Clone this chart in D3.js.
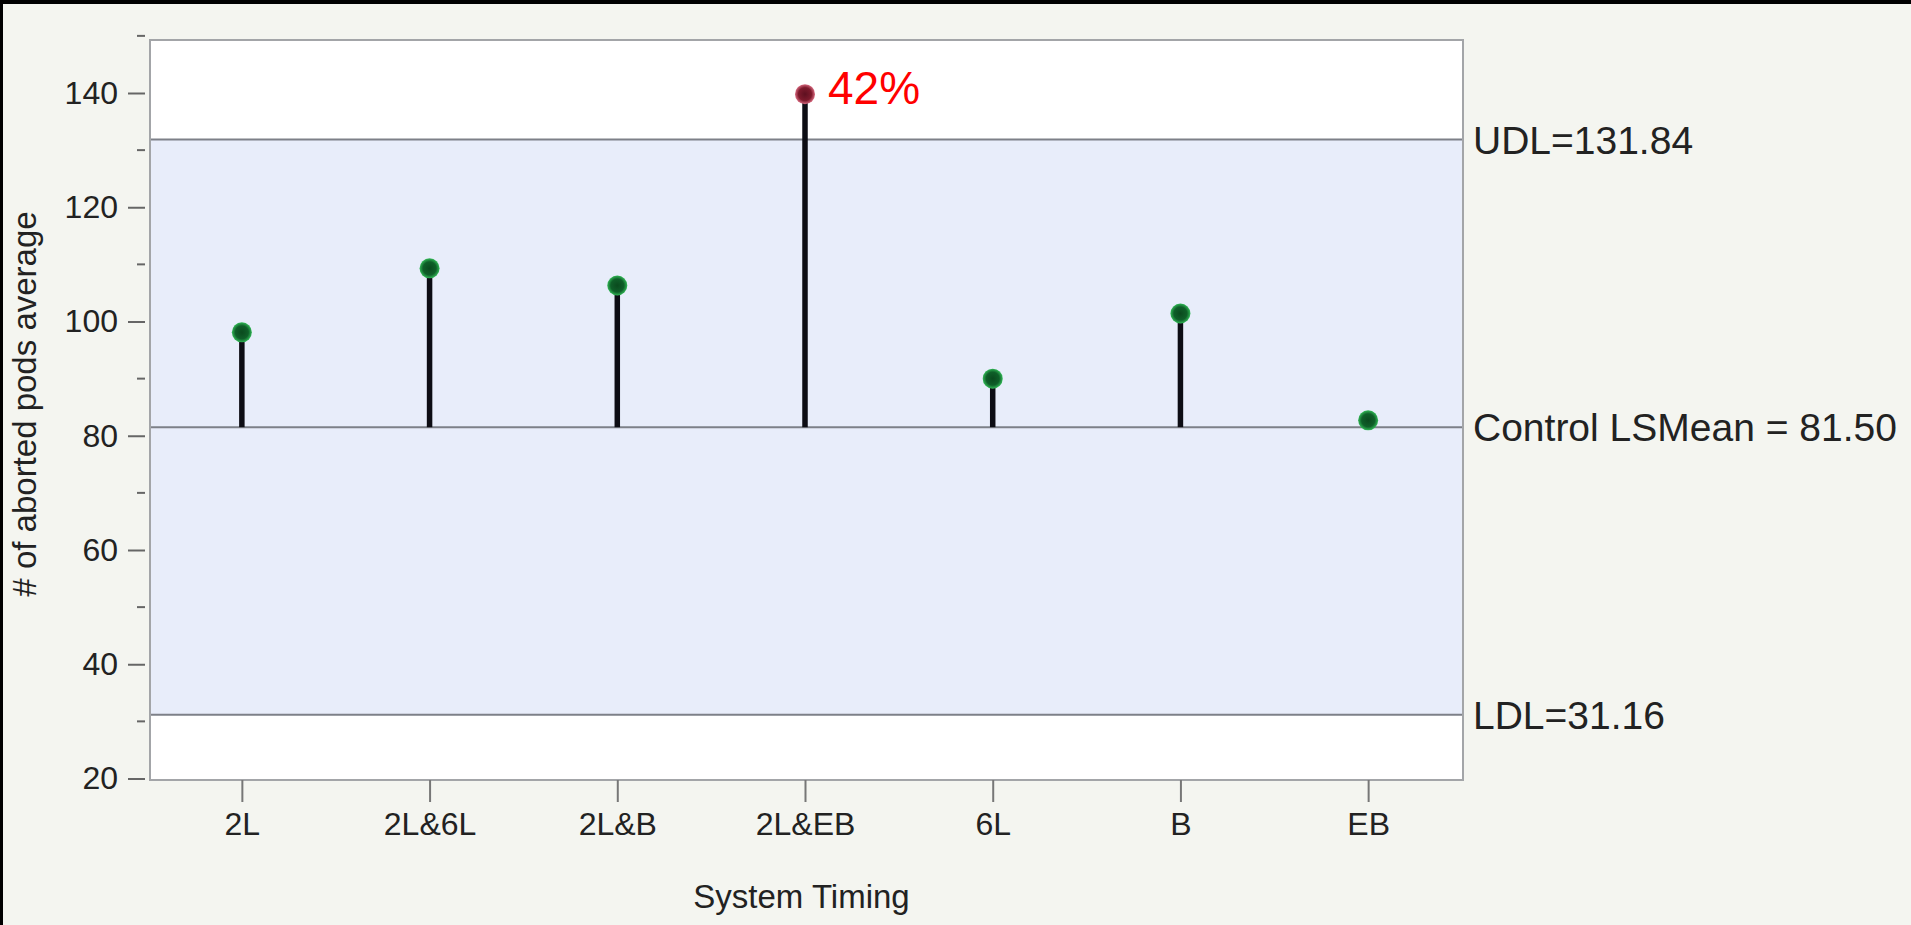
<!DOCTYPE html>
<html>
<head>
<meta charset="utf-8">
<script src="https://cdn.jsdelivr.net/npm/d3@7"></script>
<style>
  html, body { margin: 0; padding: 0; background: #000; }
  svg { display: block; }
  text { font-family: "Liberation Sans", Arial, Helvetica, sans-serif; }
</style>
</head>
<body>
<svg id="chart" width="1911" height="925"></svg>
<script>
// Treatment groups on the x axis
const categories = ["2L", "2L&6L", "2L&B", "2L&EB", "6L", "B", "EB"];
// Least-squares mean of aborted pods per group
const podAverages = [98.1, 109.3, 106.3, 139.8, 90.0, 101.4, 82.7];
// Decision limits and control mean
const controlMean = 81.50;
const upperLimit = 131.84;
const lowerLimit = 31.16;
const limitLabels = ["UDL=131.84", "Control LSMean = 81.50", "LDL=31.16"];
const limitValues = [upperLimit, controlMean, lowerLimit];
// Axis ticks
const majorTicks = [20, 40, 60, 80, 100, 120, 140];
const minorTicks = [30, 50, 70, 90, 110, 130, 150];
// Callout on the group above the upper limit
const calloutIndex = 3;
const calloutText = "42%";

const svg = d3.select("#chart");
const W = 1911, H = 925;

// page background with a dark edge at top/left
svg.append("rect").attr("x", 3).attr("y", 4).attr("width", W - 3).attr("height", H - 4)
  .attr("fill", "#f4f5f0");

const frame = { left: 150, right: 1463, top: 40, bottom: 780 };

const x = d3.scalePoint().domain(categories).range([148, 1462]).padding(0.5);
const y = d3.scaleLinear().domain([20, 140]).range([778.5, 93]);

// plot area
svg.append("rect")
  .attr("x", frame.left).attr("y", frame.top)
  .attr("width", frame.right - frame.left).attr("height", frame.bottom - frame.top)
  .attr("fill", "#ffffff");

// shaded decision band
svg.append("rect")
  .attr("x", frame.left).attr("y", y(upperLimit))
  .attr("width", frame.right - frame.left)
  .attr("height", y(lowerLimit) - y(upperLimit))
  .attr("fill", "#e8edfa");

// limit lines
svg.selectAll("line.limit").data(limitValues).join("line")
  .attr("class", "limit")
  .attr("x1", frame.left).attr("x2", frame.right)
  .attr("y1", d => y(d)).attr("y2", d => y(d))
  .attr("stroke", "#7d8088").attr("stroke-width", 2);

// limit labels to the right of the frame
svg.selectAll("text.limitLabel").data(limitValues).join("text")
  .attr("class", "limitLabel")
  .attr("x", frame.right + 10)
  .attr("y", d => y(d) + 14)
  .attr("font-size", 39)
  .attr("fill", "#222")
  .text((d, i) => limitLabels[i]);

// frame border
svg.append("rect")
  .attr("x", frame.left).attr("y", frame.top)
  .attr("width", frame.right - frame.left).attr("height", frame.bottom - frame.top)
  .attr("fill", "none").attr("stroke", "#a3a5a8").attr("stroke-width", 2);

// y axis (major ticks with labels)
const yAxis = svg.append("g")
  .attr("transform", "translate(145,0)")
  .call(d3.axisLeft(y).tickValues(majorTicks).tickSize(17).tickPadding(10).tickFormat(d3.format("d")));
yAxis.select(".domain").remove();
yAxis.selectAll(".tick line").attr("stroke", "#666").attr("stroke-width", 2);
yAxis.selectAll(".tick text").attr("font-size", 32).attr("fill", "#222")
  .attr("font-family", "'Liberation Sans', Arial, sans-serif");

// y axis minor ticks
svg.selectAll("line.minor").data(minorTicks).join("line")
  .attr("class", "minor")
  .attr("x1", 137).attr("x2", 145)
  .attr("y1", d => y(d)).attr("y2", d => y(d))
  .attr("stroke", "#666").attr("stroke-width", 2);

// x axis
const xAxis = svg.append("g")
  .attr("transform", `translate(0,${frame.bottom})`)
  .call(d3.axisBottom(x).tickSize(22).tickPadding(10));
xAxis.select(".domain").remove();
xAxis.selectAll(".tick line").attr("stroke", "#777").attr("stroke-width", 2);
xAxis.selectAll(".tick text").attr("font-size", 32).attr("fill", "#222")
  .attr("font-family", "'Liberation Sans', Arial, sans-serif");

// axis titles
svg.append("text")
  .attr("x", (frame.left + frame.right) / 2 - 5).attr("y", 908)
  .attr("text-anchor", "middle").attr("font-size", 33).attr("fill", "#222")
  .text("System Timing");

svg.append("text")
  .attr("transform", "translate(36,404) rotate(-90)")
  .attr("text-anchor", "middle").attr("font-size", 33).attr("fill", "#222")
  .text("# of aborted pods average");

// stems from the control mean to each group mean
svg.selectAll("line.stem").data(podAverages).join("line")
  .attr("class", "stem")
  .attr("x1", (d, i) => x(categories[i])).attr("x2", (d, i) => x(categories[i]))
  .attr("y1", y(controlMean)).attr("y2", d => y(d))
  .attr("stroke", "#0d0d14").attr("stroke-width", 5.5);

// gradients for the markers
const defs = svg.append("defs");
const gGreen = defs.append("radialGradient").attr("id", "dotGreen");
gGreen.append("stop").attr("offset", "0%").attr("stop-color", "#0a4a1e");
gGreen.append("stop").attr("offset", "65%").attr("stop-color", "#0f5f29");
gGreen.append("stop").attr("offset", "100%").attr("stop-color", "#32b856");
const gRed = defs.append("radialGradient").attr("id", "dotRed");
gRed.append("stop").attr("offset", "0%").attr("stop-color", "#5e1020");
gRed.append("stop").attr("offset", "65%").attr("stop-color", "#7d1a2c");
gRed.append("stop").attr("offset", "100%").attr("stop-color", "#d86a80");

svg.selectAll("circle.dot").data(podAverages).join("circle")
  .attr("class", "dot")
  .attr("cx", (d, i) => x(categories[i]))
  .attr("cy", d => y(d))
  .attr("r", 10)
  .attr("fill", d => d > upperLimit ? "url(#dotRed)" : "url(#dotGreen)");

// callout
svg.append("text")
  .attr("x", x(categories[calloutIndex]) + 23)
  .attr("y", y(podAverages[calloutIndex]) + 10)
  .attr("font-size", 46).attr("fill", "#ff0000")
  .text(calloutText);
</script>
</body>
</html>
